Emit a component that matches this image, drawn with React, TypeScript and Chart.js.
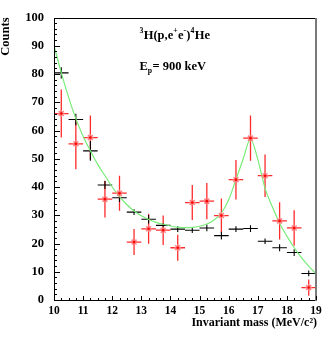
import { useEffect, useRef } from "react";
import { Chart, registerables } from "chart.js";

Chart.register(...registerables);

// ---- data ----
const binCenters = [10.25, 10.75, 11.25, 11.75, 12.25, 12.75, 13.25, 13.75, 14.25, 14.75, 15.25, 15.75, 16.25, 16.75, 17.25, 17.75, 18.25, 18.75];
const binHalfWidth = 0.25;
const blackCounts = [80.4, 63.9, 52.8, 40.7, 36.2, 31.1, 28.6, 26.4, 25.1, 24.7, 25.5, 22.8, 25.1, 25.3, 20.8, 18.5, 16.8, 9.4];
const blackErrors = [2, 2, 3.5, 1.4, 1.5, 1, 1.5, 0.8, 1, 1, 1.2, 1.4, 1, 1.2, 1, 1.2, 1.2, 1];
const redCounts = [66.0, 55.3, 57.5, 35.7, 37.8, 20.5, 25.2, 24.7, 18.5, 34.5, 35.0, 29.9, 42.6, 57.3, 44.0, 28.0, 25.5, 4.4];
const redErrors = [8.5, 9, 7.8, 6.5, 6.2, 4.6, 5.3, 5.2, 4.6, 6.2, 6.4, 6, 7, 8, 7.5, 6.6, 6.3, 2.9];
const fitMass = [10, 10.25, 10.5, 10.75, 11, 11.25, 11.5, 11.75, 12, 12.25, 12.5, 12.75, 13, 13.25, 13.5, 13.75, 14, 14.25, 14.5, 14.75, 15, 15.25, 15.5, 15.75, 16, 16.25, 16.5, 16.75, 17, 17.25, 17.5, 17.75, 18, 18.25, 18.5, 18.75, 19];
const fitCounts = [90, 80.5, 71.8, 64.2, 58, 52.8, 48, 44, 40, 36.6, 33.8, 31.5, 29.8, 28.5, 27.5, 26.8, 26.2, 25.8, 25.6, 25.7, 26.1, 26.9, 28.3, 30.8, 35.5, 42.6, 50, 57, 49.8, 39.5, 33, 27.2, 22.6, 18.5, 15, 12, 9.3];
const xMin = 10, xMax = 19, xStep = 1, xMinorStep = 0.25;
const yMin = 0, yMax = 100, yStep = 10, yMinorStep = 2;
const titleLine1: [string, string][] = [["3", "sup"], ["H(p,e", "n"], ["+", "sup"], ["e", "n"], ["-", "sup"], [")", "n"], ["4", "sup"], ["He", "n"]];
const titleLine2: [string, string][] = [["E", "n"], ["p", "sub"], ["= 900 keV", "n"]];
const xTitle = "Invariant mass (MeV/c²)";
const yTitle = "Counts";

const FONT = "'Liberation Serif', 'Times New Roman', serif";

function drawRich(ctx: CanvasRenderingContext2D, x: number, y: number, parts: [string, string][], size: number) {
  let cx = x;
  ctx.textBaseline = "alphabetic";
  ctx.textAlign = "left";
  for (const [t, k] of parts) {
    const s = k === "n" ? size : size * 0.62;
    ctx.font = `bold ${s}px ${FONT}`;
    const dy = k === "sup" ? -size * 0.42 : k === "sub" ? size * 0.25 : 0;
    ctx.fillText(t, cx, y + dy);
    cx += ctx.measureText(t).width + (k === "n" ? 0 : 0.3);
  }
}

const decorPlugin = {
  id: "decor",
  beforeDatasetsDraw(chart: any) {
    const { ctx, chartArea } = chart;
    const xs = chart.scales.x, ys = chart.scales.y;
    ctx.save();
    ctx.beginPath();
    ctx.rect(chartArea.left, chartArea.top, chartArea.right - chartArea.left, chartArea.bottom - chartArea.top);
    ctx.clip();
    chart.data.datasets.forEach((ds: any) => {
      if (!ds.errors) return;
      ctx.strokeStyle = ds.errColor;
      ctx.lineWidth = ds.errWidth;
      ds.data.forEach((p: any, i: number) => {
        const e = ds.errors[i];
        const px = xs.getPixelForValue(p.x);
        const py = ys.getPixelForValue(p.y);
        ctx.beginPath();
        ctx.moveTo(xs.getPixelForValue(p.x - binHalfWidth), py);
        ctx.lineTo(xs.getPixelForValue(p.x + binHalfWidth), py);
        ctx.moveTo(px, ys.getPixelForValue(p.y - e));
        ctx.lineTo(px, ys.getPixelForValue(p.y + e));
        ctx.stroke();
      });
    });
    ctx.restore();
  },
  afterDraw(chart: any) {
    const { ctx, chartArea } = chart;
    const { left, right, top, bottom } = chartArea;
    const xs = chart.scales.x, ys = chart.scales.y;
    ctx.save();
    // frame
    ctx.strokeStyle = "#000";
    ctx.lineWidth = 1;
    ctx.beginPath();
    ctx.moveTo(Math.round(left) + 0.5, Math.round(top) + 0.5);
    ctx.lineTo(Math.round(left) + 0.5, Math.round(bottom) + 0.5);
    ctx.lineTo(Math.round(right), Math.round(bottom) + 0.5);
    ctx.moveTo(Math.round(left), Math.round(top) + 0.5);
    ctx.lineTo(Math.round(right), Math.round(top) + 0.5);
    ctx.stroke();
    ctx.strokeStyle = "#7a7a7a";
    ctx.lineWidth = 2;
    ctx.beginPath();
    ctx.moveTo(Math.round(right), Math.round(top));
    ctx.lineTo(Math.round(right), Math.round(bottom) + 1);
    ctx.stroke();
    // inward ticks
    ctx.strokeStyle = "#000";
    ctx.lineWidth = 1;
    ctx.beginPath();
    for (let v = yMin; v <= yMax + 1e-9; v += yMinorStep) {
      const py = Math.round(ys.getPixelForValue(v)) + 0.5;
      const len = Math.abs(v % yStep) < 1e-6 ? 6 : 3;
      ctx.moveTo(left, py);
      ctx.lineTo(left + len, py);
    }
    for (let v = xMin; v <= xMax + 1e-9; v += xMinorStep) {
      const px = Math.round(xs.getPixelForValue(v)) + 0.5;
      const len = Math.abs(v - Math.round(v)) < 1e-6 ? 4 : 2;
      ctx.moveTo(px, bottom);
      ctx.lineTo(px, bottom - len);
    }
    ctx.stroke();
    // texts
    ctx.fillStyle = "#000";
    drawRich(ctx, 139.5, 38.5, titleLine1, 12.5);
    drawRich(ctx, 139.5, 69.5, titleLine2, 12.5);
    ctx.font = `bold 12px ${FONT}`;
    ctx.textAlign = "right";
    ctx.textBaseline = "middle";
    ctx.fillText(xTitle, right + 1, 323);
    ctx.save();
    ctx.translate(5.5, top);
    ctx.rotate(-Math.PI / 2);
    ctx.font = `bold 12.5px ${FONT}`;
    ctx.textAlign = "right";
    ctx.textBaseline = "middle";
    ctx.fillText(yTitle, 0, 0);
    ctx.restore();
    ctx.restore();
  },
};

export default function App() {
  const ref = useRef<HTMLCanvasElement>(null);
  useEffect(() => {
    document.body.style.margin = "0";
    const blackData = binCenters.map((x, i) => ({ x, y: blackCounts[i] }));
    const redData = binCenters.map((x, i) => ({ x, y: redCounts[i] }));
    const fitData = fitMass.map((x, i) => ({ x, y: fitCounts[i] }));
    const chart = new Chart(ref.current!, {
      type: "scatter",
      data: {
        datasets: [
          { data: redData, pointStyle: "circle", pointRadius: 1.3, pointBackgroundColor: "#ff0000", pointBorderWidth: 0, order: 0 } as any,
          { data: redData, pointStyle: "star", pointRadius: 3.5, pointBorderColor: "rgba(255,120,120,0.9)", pointBorderWidth: 1.5, order: 1, errors: redErrors, errColor: "#ff2a2a", errWidth: 1.3 } as any,
          { data: fitData, showLine: true, pointRadius: 0, borderColor: "#78ec78", borderWidth: 1.2, cubicInterpolationMode: "monotone", order: 2 } as any,
          { data: blackData, pointRadius: 0, order: 3, errors: blackErrors, errColor: "#000", errWidth: 1.1 } as any,
        ],
      },
      options: {
        animation: false,
        responsive: false,
        devicePixelRatio: 1,
        layout: { padding: { top: 12, right: 19, left: 0, bottom: 0 } },
        plugins: { legend: { display: false }, tooltip: { enabled: false } },
        scales: {
          x: {
            type: "linear",
            min: xMin,
            max: xMax,
            afterFit: (s: any) => { s.height = 44; },
            grid: { display: false, drawTicks: false },
            border: { display: false },
            ticks: { stepSize: xStep, padding: 4, color: "#000", font: { family: FONT, weight: "bold", size: 11.5 }, maxRotation: 0 },
          },
          y: {
            type: "linear",
            min: yMin,
            max: yMax,
            afterFit: (s: any) => { s.width = 54; },
            grid: { display: false, drawTicks: false },
            border: { display: false },
            ticks: { stepSize: yStep, padding: 10, color: "#000", font: { family: FONT, weight: "bold", size: 12.5 } },
          },
        },
      } as any,
      plugins: [decorPlugin],
    });
    return () => chart.destroy();
  }, []);
  return <canvas ref={ref} width={335} height={344} style={{ display: "block" }} />;
}
